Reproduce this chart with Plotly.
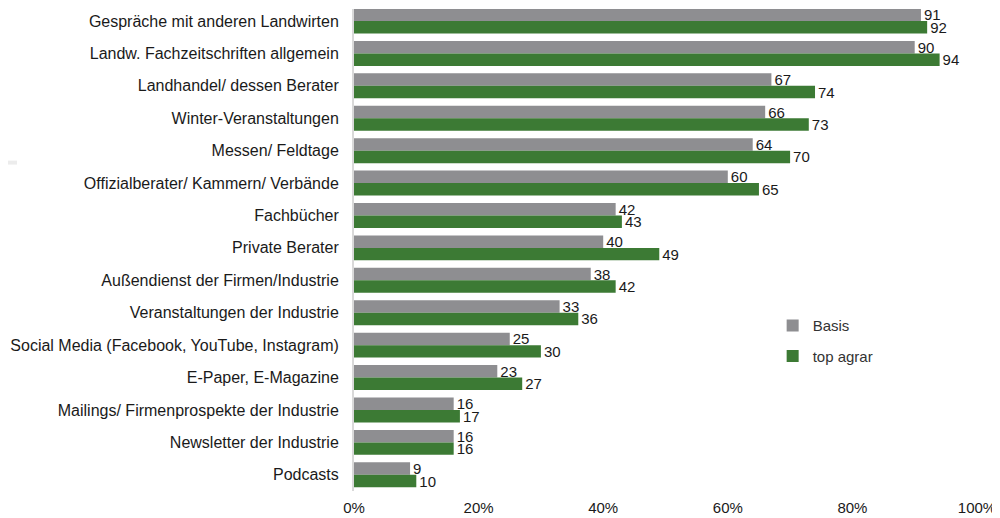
import plotly.graph_objects as go

categories = [
    "Gespräche mit anderen Landwirten",
    "Landw. Fachzeitschriften allgemein",
    "Landhandel/ dessen Berater",
    "Winter-Veranstaltungen",
    "Messen/ Feldtage",
    "Offizialberater/ Kammern/ Verbände",
    "Fachbücher",
    "Private Berater",
    "Außendienst der Firmen/Industrie",
    "Veranstaltungen der Industrie",
    "Social Media (Facebook, YouTube, Instagram)",
    "E-Paper, E-Magazine",
    "Mailings/ Firmenprospekte der Industrie",
    "Newsletter der Industrie",
    "Podcasts",
]
basis = [91, 90, 67, 66, 64, 60, 42, 40, 38, 33, 25, 23, 16, 16, 9]
top_agrar = [92, 94, 74, 73, 70, 65, 43, 49, 42, 36, 30, 27, 17, 16, 10]
tick_values = [0, 20, 40, 60, 80, 100]
tick_labels = ["0%", "20%", "40%", "60%", "80%", "100%"]

GRAY = "#8e8e91"
GREEN = "#3c7a34"
FONT = "Liberation Sans, Arial, sans-serif"

fig = go.Figure()
fig.add_trace(go.Bar(
    y=categories, x=basis, orientation="h", name="Basis", legendgroup="a",
    marker=dict(color=GRAY, line=dict(width=0)),
    text=basis, textposition="outside", cliponaxis=False, constraintext="none",
    textfont=dict(size=15, color="#1a1a1a", family=FONT),
))
fig.add_trace(go.Bar(
    y=categories, x=top_agrar, orientation="h", name="top agrar", legendgroup="b",
    marker=dict(color=GREEN, line=dict(width=0)),
    text=top_agrar, textposition="outside", cliponaxis=False, constraintext="none",
    textfont=dict(size=15, color="#1a1a1a", family=FONT),
))

fig.update_layout(
    width=992, height=510,
    margin=dict(l=346, r=23, t=1, b=27, autoexpand=False),
    paper_bgcolor="white", plot_bgcolor="white",
    barmode="group", bargap=0.23, bargroupgap=0,
    font=dict(family=FONT, size=16, color="#1a1a1a"),
    showlegend=True,
    legend=dict(x=0.672, y=0.377, xanchor="left", yanchor="top",
                bgcolor="rgba(0,0,0,0)", font=dict(size=15, color="#333333"),
                itemsizing="constant", tracegroupgap=8),
    shapes=[dict(type="rect", xref="paper", yref="paper",
                 x0=-354/623, x1=-337/623, y0=0.6772, y1=0.6854,
                 fillcolor="#ececec", line=dict(width=0))],
)
fig.update_xaxes(range=[0, 100], tickvals=tick_values, ticktext=tick_labels,
                 showgrid=False, zeroline=False, showline=False, ticks="",
                 automargin=False, ticklabelstandoff=6,
                 tickfont=dict(size=15, color="#1a1a1a"))
fig.update_yaxes(range=[14.5, -0.37], showgrid=False, zeroline=False,
                 showline=True, linecolor="#d9d9d9", linewidth=2, ticks="",
                 ticklabelstandoff=10, automargin=False,
                 tickfont=dict(size=16, color="#1a1a1a"))

fig.write_html("out.html")
